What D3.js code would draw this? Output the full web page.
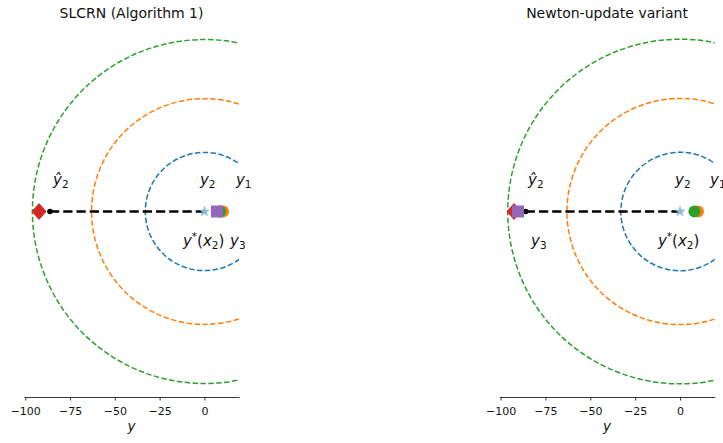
<!DOCTYPE html>
<html lang="en">
<head>
<meta charset="UTF-8">
<title>SLCRN vs Newton-update</title>
<style>
  body { margin: 0; background: #fff; }
  svg { display: block; font-family: "DejaVu Sans", sans-serif; }
  .title { font-size: 14px; fill: #111; text-anchor: middle; }
  .tick text { font-size: 11px; fill: #111; font-family: "DejaVu Sans", sans-serif; }
  .tick line, .domain { stroke: #222; stroke-width: 0.9; }
  .lbl { font-size: 15px; fill: #111; }
</style>
</head>
<body>
<svg width="723" height="443"></svg>
<script src="https://d3js.org/d3.v7.min.js"></script>
<script>
// ---- data ----
const panelTitles = ["SLCRN (Algorithm 1)", "Newton-update variant"];
const xTicks = [-100, -75, -50, -25, 0];
const xDomain = [-100.7, 19.3];
const radii = [33, 63, 96];
const radiusColors = ["#1f77b4", "#ff7f0e", "#2ca02c"];

const starX  = [0, 0];           // y*(x2)
const y1X    = [10.4, 10.0];     // orange dot
const y2X    = [8.7, 8.0];       // green dot
const y3X    = [7.0, -90.3];     // purple square
const yHatX  = [-92.3, -92.5];   // red diamond
const pathX  = [-86.2, -86.0];   // start of dashed path

// label anchors [x, y] in data units, per panel
const labelsLeft = [
  {key: "yhat2", at: [-84.5, 14.8]},
  {key: "y2",    at: [-2.5, 14.8]},
  {key: "y1",    at: [17.6, 14.8]},
  {key: "ystar", at: [-12.0, -19.0]},
  {key: "y3",    at: [14.3, -19.0]}
];
const labelsRight = [
  {key: "yhat2", at: [-84.7, 14.8]},
  {key: "y2",    at: [-2.8, 14.8]},
  {key: "y1",    at: [16.7, 14.8]},
  {key: "ystar", at: [-12.3, -19.0]},
  {key: "y3",    at: [-83.0, -19.0]}
];
const panelLabels = [labelsLeft, labelsRight];

const mathText = {
  yhat2: [{t: "\u0177", it: true}, {t: "2", sub: true}],
  y2:    [{t: "y", it: true}, {t: "2", sub: true}],
  y1:    [{t: "y", it: true}, {t: "1", sub: true}],
  y3:    [{t: "y", it: true}, {t: "3", sub: true}],
  ystar: [{t: "y", it: true}, {t: "*", sup: true}, {t: "("}, {t: "x", it: true}, {t: "2", sub: true}, {t: ")"}]
};

// ---- layout ----
const svg = d3.select("svg");
const panels = [{x0: 24, x1: 239}, {x0: 499.3, x1: 714.7}];
const plotTop = 26, plotBottom = 397;

function drawMath(g, segs, px, py) {
  const t = g.append("text").attr("class", "lbl").attr("x", px).attr("y", py);
  let shift = 0;
  segs.forEach(s => {
    let target = 0, size = null;
    if (s.sub) { target = 3.5; size = "10.5px"; }
    if (s.sup) { target = -6; size = "10.5px"; }
    const ts = t.append("tspan").text(s.t).attr("dy", target - shift);
    shift = target;
    if (size) ts.style("font-size", size);
    if (s.it) ts.style("font-style", "italic");
  });
}

panels.forEach((p, i) => {
  const x = d3.scaleLinear().domain(xDomain).range([p.x0, p.x1]);
  const k = (p.x1 - p.x0) / (xDomain[1] - xDomain[0]);
  const yHalf = (plotBottom - plotTop) / 2 / k;
  const y = d3.scaleLinear().domain([-yHalf, yHalf]).range([plotBottom, plotTop]);

  const clipId = "clip" + i;
  svg.append("clipPath").attr("id", clipId)
    .append("rect").attr("x", p.x0).attr("y", plotTop)
    .attr("width", p.x1 - p.x0).attr("height", plotBottom - plotTop);

  const g = svg.append("g");
  const plot = g.append("g").attr("clip-path", `url(#${clipId})`);

  // dashed circles
  plot.selectAll("circle.ring").data(radii).join("circle")
    .attr("class", "ring")
    .attr("cx", x(0)).attr("cy", y(0))
    .attr("r", d => x(d) - x(0))
    .attr("fill", "none")
    .attr("stroke", (d, j) => radiusColors[j])
    .attr("stroke-width", 1.5)
    .attr("stroke-dasharray", "5.5,2.4");

  // dashed path
  plot.append("line")
    .attr("x1", x(pathX[i])).attr("y1", y(0))
    .attr("x2", x(starX[i])).attr("y2", y(0))
    .attr("stroke", "#000").attr("stroke-width", 2.5)
    .attr("stroke-dasharray", "9.25,4");
  plot.append("circle")
    .attr("cx", x(pathX[i])).attr("cy", y(0)).attr("r", 2.8).attr("fill", "#000");

  // red diamond (y hat)
  const dx = 7.5, dy = 8.5;
  const cxD = x(yHatX[i]), cyD = y(0);
  plot.append("path")
    .attr("d", `M${cxD},${cyD - dy}L${cxD + dx},${cyD}L${cxD},${cyD + dy}L${cxD - dx},${cyD}Z`)
    .attr("fill", "#d62728");

  // orange then green dots
  plot.append("circle").attr("cx", x(y1X[i])).attr("cy", y(0)).attr("r", 6).attr("fill", "#ff7f0e");
  plot.append("circle").attr("cx", x(y2X[i])).attr("cy", y(0)).attr("r", 6).attr("fill", "#2ca02c");

  // purple square
  plot.append("rect")
    .attr("x", x(y3X[i]) - 6).attr("y", y(0) - 6)
    .attr("width", 12).attr("height", 12)
    .attr("fill", "#9467bd");

  // star
  plot.append("path")
    .attr("d", d3.symbol(d3.symbolStar, 30)())
    .attr("transform", `translate(${x(starX[i])},${y(0)})`)
    .attr("fill", "#8fbbd9").attr("stroke", "#7aaed3").attr("stroke-width", 0.5);

  // labels
  panelLabels[i].forEach(l => drawMath(g, mathText[l.key], x(l.at[0]), y(l.at[1])));

  // x axis
  g.append("g")
    .attr("transform", `translate(0,${plotBottom})`)
    .call(d3.axisBottom(x).tickValues(xTicks).tickSize(3.5).tickSizeOuter(0).tickPadding(7)
      .tickFormat(d => d < 0 ? "\u2212" + Math.abs(d) : d));

  g.append("text")
    .attr("x", (p.x0 + p.x1) / 2).attr("y", 431)
    .attr("text-anchor", "middle")
    .style("font-size", "13.5px").style("font-style", "italic").attr("fill", "#111")
    .text("y");

  g.append("text").attr("class", "title")
    .attr("x", (p.x0 + p.x1) / 2).attr("y", 18)
    .text(panelTitles[i]);
});
</script>
</body>
</html>
